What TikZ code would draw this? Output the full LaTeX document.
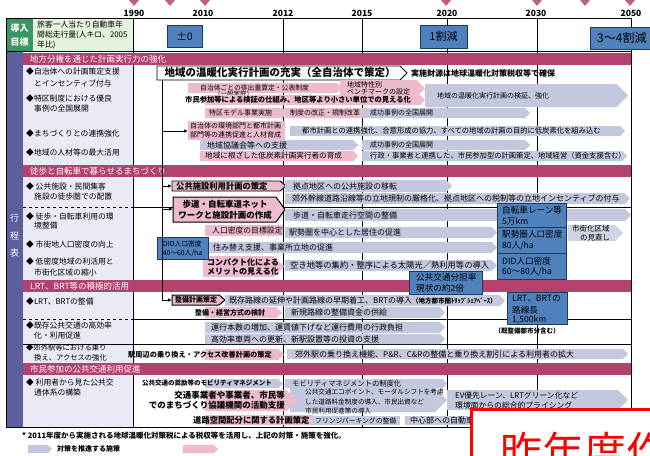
\documentclass[tikz,border=0pt]{standalone}
\usepackage{fontspec}
\setmainfont{Noto Sans CJK JP}
\usetikzlibrary{arrows.meta}
\definecolor{barc}{RGB}{180,66,110}
\definecolor{gcol}{RGB}{196,200,222}
\definecolor{pcol}{RGB}{238,186,206}
\definecolor{bcol}{RGB}{79,129,189}
\definecolor{bdark}{RGB}{31,56,100}
\definecolor{gdark}{RGB}{58,150,98}
\definecolor{glight}{RGB}{228,243,222}
\definecolor{lcol}{RGB}{92,94,158}
\definecolor{lav}{RGB}{233,234,246}
\newcounter{nn}
\newcommand\myfs[1]{\fontsize{#1}{#1}\selectfont}
\newcommand\mytxt[4][]{\stepcounter{nn}\node[tx,#1] (t\arabic{nn}) at (#2,#3) {#4};}
\newcommand\myG[4]{\fill[gcol] (#1,#2) -- ({#3-(#4-#2)/2},#2) -- (#3,{(#2+#4)/2}) -- ({#3-(#4-#2)/2},#4) -- (#1,#4) -- cycle;}
\newcommand\myP[4]{\fill[pcol] (#1,#2) -- ({#3-(#4-#2)/2},#2) -- (#3,{(#2+#4)/2}) -- ({#3-(#4-#2)/2},#4) -- (#1,#4) -- cycle;}
\begin{document}
\begin{tikzpicture}[x=1pt,y=-1pt,
  tx/.style={inner sep=0,anchor=west,font=\myfs{8}},
  blue box/.style={fill=bcol,draw=bdark,line width=0.8},
  con/.style={-{Latex[length=4pt,width=3.5pt]},line width=0.8}]
\useasboundingbox (0,0) rectangle (650,455);
\fill[white] (0,0) rectangle (650,455);
% markers and years
\foreach \cx in {134,170,205,446,537,585,630} \fill[barc!85] (\cx-5,0) -- (\cx+5,0) -- (\cx,6) -- cycle;
\foreach \yx/\yl in {134/1990,203/2010,283/2012,362/2015,447/2020,536/2030,631/2050}
  \node[inner sep=0,font=\myfs{8.5}\bfseries] (y\yl) at (\yx,13) {\yl};
% header
\fill[gdark] (6,18) rectangle (33,51);
\fill[glight] (33,18) rectangle (133,51);
\mytxt[anchor=center,text=white,font=\myfs{9}\bfseries]{19.5}{28}{導入}
\mytxt[anchor=center,text=white,font=\myfs{9}\bfseries]{19.5}{42}{目標}
\mytxt[font=\myfs{7.8}]{37}{25}{旅客一人当たり自動車年}
\mytxt[font=\myfs{7.8}]{37}{35}{間総走行量(人キロ、2005}
\mytxt[font=\myfs{7.8}]{37}{45}{年比)}
% frame and columns
\fill[lcol] (6,51) rectangle (23,427);
\fill[lav] (23,65) rectangle (133,427);
\foreach \vx in {283,362,447,537} \draw[line width=0.7] (\vx,18) -- (\vx,427);
\draw[line width=0.8] (133,18) -- (133,427);
\draw[line width=0.8] (6,18) rectangle (631,51);
\draw[line width=0.8] (6,51) rectangle (631,427);
% separators
\draw[dashed,line width=0.4] (23,207.5) -- (133,207.5);
\draw[line width=0.4] (133,207.5) -- (631,207.5);
\draw[dashed,line width=0.4] (23,319.5) -- (133,319.5);
\draw[line width=0.4] (133,319.5) -- (631,319.5);
\draw[line width=0.5] (23,344.5) -- (631,344.5);
% target boxes
\draw[blue box] (167,25) rectangle (202,47);
\mytxt[anchor=center,font=\myfs{10.5}]{184.5}{36}{±0}
\draw[blue box] (420,25) rectangle (467,48);
\mytxt[anchor=center,font=\myfs{11}]{443.5}{36.5}{1割減}
\draw[blue box] (590,27) rectangle (660,49);
\mytxt[font=\myfs{12}]{597}{38}{3～4割減}
% section bars
\fill[barc] (23,53) rectangle (631,65);
\fill[barc] (23,165) rectangle (631,177);
\fill[barc] (23,280) rectangle (631,292);
\fill[barc] (23,363) rectangle (631,375);
\mytxt[text=white,font=\myfs{8.5}]{30}{59}{地方分権を通じた計画実行力の強化}
\mytxt[text=white,font=\myfs{8.5}]{30}{171}{徒歩と自転車で暮らせるまちづくり}
\mytxt[text=white,font=\myfs{8.5}]{30}{286}{LRT、BRT等の積極的活用}
\mytxt[text=white,font=\myfs{8.5}]{30}{369}{市民参加の公共交通利用促進}
% left labels
\mytxt[anchor=center,text=white,font=\myfs{9}]{14.5}{218}{行}
\mytxt[anchor=center,text=white,font=\myfs{9}]{14.5}{236}{程}
\mytxt[anchor=center,text=white,font=\myfs{9}]{14.5}{253}{表}
\mytxt[font=\myfs{7.8}]{26}{72}{◆自治体への計画策定支援}
\mytxt[font=\myfs{7.8}]{34}{83}{とインセンティブ付与}
\mytxt[font=\myfs{7.8}]{26}{99}{◆特区制度における優良}
\mytxt[font=\myfs{7.8}]{34}{109}{事例の全国展開}
\mytxt[font=\myfs{7.8}]{26}{134}{◆まちづくりとの連携強化}
\mytxt[font=\myfs{7.8}]{26}{153}{◆地域の人材等の最大活用}
\mytxt[font=\myfs{7.8}]{26}{187}{◆ 公共施設・民間集客}
\mytxt[font=\myfs{7.8}]{34}{197}{施設の徒歩圏での配置}
\mytxt[font=\myfs{7.8}]{26}{217}{◆ 徒歩・自転車利用の環}
\mytxt[font=\myfs{7.8}]{34}{226}{境整備}
\mytxt[font=\myfs{7.8}]{26}{245}{◆ 市街地人口密度の向上}
\mytxt[font=\myfs{7.8}]{26}{262}{◆ 低密度地域の利活用と}
\mytxt[font=\myfs{7.8}]{34}{273}{市街化区域の縮小}
\mytxt[font=\myfs{7.8}]{26}{302}{◆LRT、BRTの整備}
\mytxt[font=\myfs{7.8}]{26}{326}{◆既存公共交通の高効率}
\mytxt[font=\myfs{7.8}]{34}{336}{化・利用促進}
\mytxt[font=\myfs{7.3}]{26}{348}{◆郊外駅等における乗り}
\mytxt[font=\myfs{7.3}]{34}{357.5}{換え、アクセスの強化}
\mytxt[font=\myfs{7.8}]{26}{383}{◆ 利用者から見た公共交}
\mytxt[font=\myfs{7.8}]{34}{393}{通体系の構築}
% ---- section 1 ----
\draw[fill=white,line width=0.8] (157,66) -- (400,66) -- (407,73) -- (400,80) -- (157,80) -- cycle;
\mytxt[anchor=center,font=\myfs{10.5}\bfseries]{280}{73}{地域の温暖化実行計画の充実（全自治体で策定）}
\mytxt[font=\myfs{8}\bfseries]{411}{73.5}{実施財源は地球温暖化対策税収等で確保}
\myP{188}{83}{342}{93}
\mytxt[font=\myfs{6.8}]{200}{88}{自治体ごとの排出量算定・公表制度}
\mytxt[font=\myfs{6.5}]{214}{94.5}{（一般家庭）}
\myP{340}{80}{425}{97}
\mytxt[font=\myfs{7}]{347}{84.5}{地域特性別}
\mytxt[font=\myfs{7}]{347}{92}{ベンチマークの設定}
\myG{425}{84}{628}{107}
\mytxt[font=\myfs{7}]{437}{95.5}{地域の温暖化実行計画の検証、強化}
\myP{205}{95}{425}{105}
\mytxt[font=\myfs{7.3}\bfseries]{185}{100}{市民参加等による検証の仕組み、地区等より小さい単位での見える化}
\myP{205}{108}{287}{118}
\mytxt[font=\myfs{7}]{209}{113}{特区モデル事業実施}
\myP{285}{108}{366}{118}
\mytxt[font=\myfs{7}]{290}{113}{制度の改正・規制改革}
\myG{362}{108}{530}{118}
\mytxt[font=\myfs{7}]{370}{113}{成功事例の全国展開}
\fill[pcol] (188,121) rectangle (285,140);
\mytxt[font=\myfs{7}]{190}{126}{自治体の環境部門と都市計画}
\mytxt[font=\myfs{7}]{190}{135}{部門等の連携促進と人材育成}
\myG{290}{126}{625}{136}
\mytxt[font=\myfs{7.3}]{302}{131}{都市計画との連携強化、合意形成の協力、すべての地域の計画の目的に低炭素化を組み込む}
\myG{200}{140}{358}{150}
\mytxt[font=\myfs{8}]{207}{145}{地域協議会等への支援}
\myG{362}{140}{530}{150}
\mytxt[font=\myfs{7}]{370}{145}{成功事例の全国展開}
\myP{200}{151}{358}{161}
\mytxt[font=\myfs{7.6}]{205}{156}{地域に根ざした低炭素計画実行者の育成}
\myG{362}{151}{627}{161}
\mytxt[font=\myfs{7.3}]{370}{156}{行政・事業者と連携した、市民参加型の計画策定、地域経営（資金支援含む）}
% ---- section 2 ----
\draw[fill=pcol,line width=0.9] (172,181) -- (280,181) -- (286,186) -- (280,191) -- (172,191) -- cycle;
\mytxt[font=\myfs{8.3}\bfseries]{176}{186}{公共施設利用計画の策定}
\myG{285}{180}{452}{192}
\mytxt[font=\myfs{8}]{293}{186}{拠点地区への公共施設の移転}
\myG{285}{193}{630}{204}
\mytxt[font=\myfs{8}]{292}{198.5}{郊外幹線道路沿線等の立地規制の厳格化、拠点地区への税制等の立地インセンティブの付与}
\draw[fill=pcol,line width=1] (173,197) -- (276,197) -- (285,209.5) -- (276,222) -- (173,222) -- cycle;
\mytxt[anchor=center,font=\myfs{8.5}\bfseries]{225}{204}{歩道・自転車道ネット}
\mytxt[anchor=center,font=\myfs{8.5}\bfseries]{225}{215}{ワークと施設計画の作成}
\myG{285}{209}{631}{221}
\mytxt[font=\myfs{8}]{293}{215}{歩道・自転車走行空間の整備}
\fill[pcol] (205,225) rectangle (283,236);
\mytxt[font=\myfs{7.8}]{212}{230.5}{人口密度の目標設定}
\myG{285}{227}{497}{238}
\mytxt[font=\myfs{8}]{289}{232.5}{駅勢圏を中心とした居住の促進}
\myG{205}{242}{497}{253}
\mytxt[font=\myfs{8}]{213}{247.5}{住み替え支援、事業所立地の促進}
\myP{203}{256}{284}{277}
\mytxt[font=\myfs{8}\bfseries]{207}{262}{コンパクト化による}
\mytxt[font=\myfs{8}\bfseries]{207}{272}{メリットの見える化}
\myG{285}{260}{497}{271}
\mytxt[font=\myfs{8.3}]{290}{265.5}{空き地等の集約・整序による太陽光／熱利用等の導入}
\draw[blue box] (157,237) rectangle (208,259);
\mytxt[anchor=center,font=\myfs{6.8}]{182.5}{244}{DID人口密度}
\mytxt[anchor=center,font=\myfs{6.8}]{182.5}{253}{40～60人/ha}
\fill[gcol!80] (568,225) -- (615,225) -- (623,233) -- (615,241) -- (568,241) -- cycle;
\mytxt[font=\myfs{7.5}]{572}{228.5}{市街化区域}
\mytxt[font=\myfs{7.5}]{580}{237.5}{の見直し}
\draw[blue box] (497,203) rectangle (566,227);
\mytxt[font=\myfs{8.6}]{502}{210}{自転車レーン等}
\mytxt[font=\myfs{8.6}]{502}{221}{5万km}
\draw[blue box] (497,227) rectangle (566,253);
\mytxt[font=\myfs{8.6}]{502}{234}{駅勢圏人口密度}
\mytxt[font=\myfs{8.6}]{502}{246}{80人/ha}
\draw[blue box] (497,253) rectangle (566,279);
\mytxt[font=\myfs{8.6}]{502}{261}{DID人口密度}
\mytxt[font=\myfs{8.6}]{502}{272}{60～80人/ha}
\draw[blue box] (409,271) rectangle (482,294);
\mytxt[font=\myfs{8.6}]{416}{277.5}{公共交通分担率}
\mytxt[font=\myfs{8.6}]{416}{288.5}{現状の約2倍}
% ---- section 3 ----
\draw[fill=pcol,line width=1] (172,295) -- (219,295) -- (225,300) -- (219,305) -- (172,305) -- cycle;
\mytxt[font=\myfs{7}\bfseries]{175}{300}{整備計画策定}
\myG{225}{295}{505}{306}
\mytxt[font=\myfs{8}]{229}{300.5}{既存路線の延伸や計画路線の早期着工、BRTの導入{\myfs{6.5}\bfseries （地方都市圏ﾄﾘｯﾌﾟｼｪｱﾍﾞｰｽ）}}
\draw[blue box] (507,292) rectangle (567,324);
\mytxt[font=\myfs{8.6}]{512}{299}{LRT、BRTの}
\mytxt[font=\myfs{8.6}]{512}{310}{路線長}
\mytxt[font=\myfs{8.6}]{512}{319.5}{1,500km}
\mytxt[anchor=center,font=\myfs{6.5}\bfseries]{527}{331}{（既整備都市分含む）}
\myP{205}{307}{282}{318}
\mytxt[font=\myfs{7}\bfseries]{195}{312.5}{整備・経営方式の検討}
\myG{285}{307}{445}{318}
\mytxt[font=\myfs{8}]{291}{312.5}{新規路線の整備資金の供給}
\myG{205}{322}{445}{333}
\mytxt[font=\myfs{8}]{211}{327.5}{運行本数の増加、運賃値下げなど運行費用の行政負担}
\myG{205}{334}{445}{344}
\mytxt[font=\myfs{8}]{211}{339}{高効率車両への更新、新駅設置等の投資の支援}
\myP{205}{349}{284}{360}
\mytxt[font=\myfs{7.2}\bfseries]{128}{354.5}{駅周辺の乗り換え・アクセス改善計画の策定}
\myG{287}{349}{628}{359}
\mytxt[font=\myfs{8}]{295}{354}{郊外駅の乗り換え機能、P\&R、C\&Rの整備と乗り換え割引による利用者の拡大}
% ---- section 4 ----
\myG{205}{379}{283}{388}
\mytxt[font=\myfs{6.5}\bfseries]{142}{383.5}{公共交通の奨励等のモビリティマネジメント}
\myG{285}{379}{447}{388}
\mytxt[font=\myfs{7.3}]{292}{383.5}{モビリティマネジメントの制度化}
\myG{290}{388}{447}{412}
\myP{205}{390}{297}{411}
\mytxt[anchor=east,font=\myfs{8.5}\bfseries]{285}{395}{交通事業者や事業者、市民等}
\mytxt[anchor=east,font=\myfs{8.5}\bfseries]{285}{405}{でのまちづくり協議機関の活動支援}
\mytxt[font=\myfs{6.6}]{305}{392}{公共交通エコポイント、モーダルシフトを考慮}
\mytxt[font=\myfs{6.6}]{305}{401.5}{した道路料金制度の導入、市民出資など}
\mytxt[font=\myfs{6.6}]{305}{410.5}{市民利用促進策の導入}
\myG{447}{390}{628}{410}
\mytxt[font=\myfs{7.8}]{455}{396}{EV優先レーン、LRTグリーン化など}
\mytxt[font=\myfs{7.8}]{455}{405.5}{環境面からの総合的プライシング}
\myP{205}{415}{318}{425}
\mytxt[font=\myfs{8.3}\bfseries]{193}{420}{道路空間配分に関する計画策定}
\fill[gcol] (312,416) rectangle (400,425);
\mytxt[font=\myfs{6.8}]{315}{420.5}{フリンジパーキングの整備}
\fill[gcol] (405,416) rectangle (480,425);
\mytxt[font=\myfs{8}]{410}{420.5}{中心部への自動車}
% connectors
\coordinate (vt) at (162,80);
\coordinate (pubw) at (172,186);
\coordinate (netw) at (173,209);
\coordinate (seiw) at (172,300);
\coordinate (renw) at (188,131);
\draw[line width=0.8] (vt) -- (162,300);
\draw[con] (162,131) -- (renw);
\draw[con] (162,186) -- (pubw);
\draw[con] (162,209) -- (netw);
\draw[con] (162,300) -- (seiw);
% notes and legend
\mytxt[font=\myfs{7.5}\bfseries]{22}{435.5}{* 2011年度から実施される地球温暖化対策税による税収等を活用し、上記の対策・施策を強化。}
\myG{28}{445}{52}{453}
\mytxt[font=\myfs{7}\bfseries]{57}{449}{対策を推進する施策}
\myP{183}{445}{218}{453}
% red overlay
\draw[red,line width=3,fill=white] (471,409) rectangle (670,480);
\mytxt[text=red,font=\myfs{42}]{500}{452}{昨年度作成}
\end{tikzpicture}
\end{document}
